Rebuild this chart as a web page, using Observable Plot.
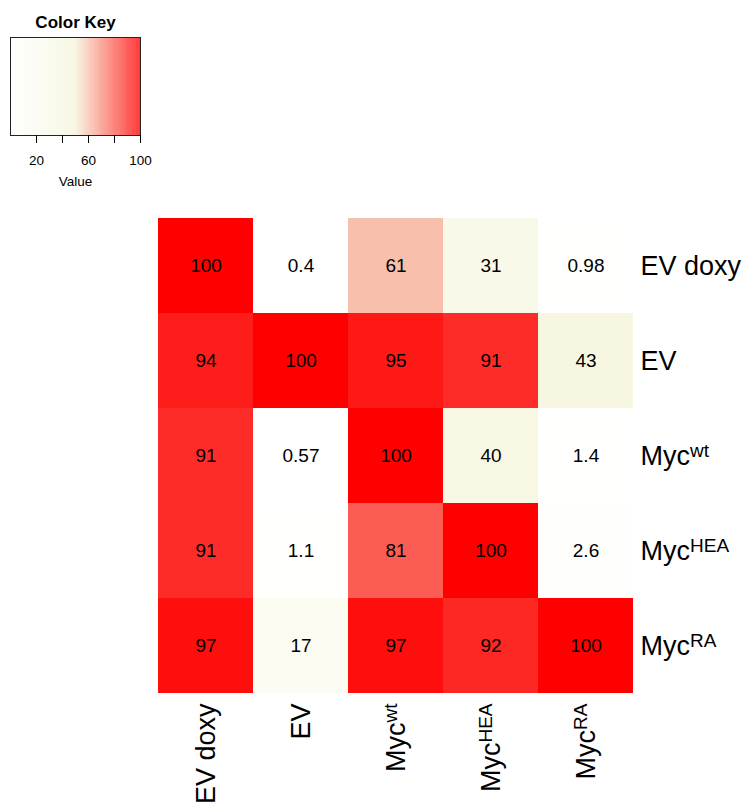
<!DOCTYPE html>
<html>
<head>
<meta charset="utf-8">
<script src="https://cdn.jsdelivr.net/npm/d3@7"></script>
<script src="https://cdn.jsdelivr.net/npm/@observablehq/plot@0.6"></script>
<style>
  body { margin: 0; background: white; }
  #wrap { position: relative; width: 744px; height: 805px; }
  #wrap > svg, #wrap > figure { position: absolute; left: 0; top: 0; margin: 0; }
</style>
</head>
<body>
<div id="wrap"></div>
<script>
// ---- data ----
const columns = ["EV doxy", "EV", "Myc^wt", "Myc^HEA", "Myc^RA"];
const rows = ["EV doxy", "EV", "Myc^wt", "Myc^HEA", "Myc^RA"];
const rowEVdoxy = [100, 0.4, 61, 31, 0.98];
const rowEV = [94, 100, 95, 91, 43];
const rowMycWt = [91, 0.57, 100, 40, 1.4];
const rowMycHEA = [91, 1.1, 81, 100, 2.6];
const rowMycRA = [97, 17, 97, 92, 100];
const keyTicks = [20, 40, 60, 80, 100];
const keyTickLabels = [20, 60, 100];

const matrix = [rowEVdoxy, rowEV, rowMycWt, rowMycHEA, rowMycRA];
const table = [];
rows.forEach((r, i) => columns.forEach((c, j) => table.push({row: r, col: c, value: matrix[i][j]})));

const colorScale = {
  type: "linear",
  domain: [0, 50, 100],
  range: ["#FFFFFF", "#F5F5DC", "#FF0000"],
  interpolate: "rgb"
};
const font = "'Liberation Sans', Arial, Helvetica, sans-serif";

function applySuperscripts(svg) {
  svg.querySelectorAll("text").forEach(t => {
    const s = t.textContent;
    if (!s.includes("^")) return;
    const [base, sup] = s.split("^");
    while (t.firstChild) t.removeChild(t.firstChild);
    const ns = "http://www.w3.org/2000/svg";
    const a = document.createElementNS(ns, "tspan");
    a.textContent = base;
    const b = document.createElementNS(ns, "tspan");
    b.textContent = sup;
    b.setAttribute("font-size", "19px");
    b.setAttribute("dy", "-7.5");
    t.appendChild(a);
    t.appendChild(b);
  });
}

const main = Plot.plot({
  width: 744,
  height: 805,
  marginLeft: 157,
  marginRight: 111,
  marginTop: 217,
  marginBottom: 112,
  style: {fontFamily: font, fontSize: "19px", background: "white", color: "black"},
  x: {domain: columns, padding: 0},
  y: {domain: rows, padding: 0},
  color: colorScale,
  marks: [
    Plot.cell(table, {x: "col", y: "row", fill: "value", inset: 0}),
    Plot.text(table, {x: "col", y: "row", text: d => String(d.value), fontSize: 19, fill: "black"}),
    Plot.axisX({anchor: "bottom", tickSize: 0, tickPadding: 10, tickRotate: -90, fontSize: 27, label: null}),
    Plot.axisY({anchor: "right", tickSize: 0, tickPadding: 7, fontSize: 27, label: null})
  ]
});
applySuperscripts(main);
document.getElementById("wrap").appendChild(main);

const keySteps = d3.range(0, 100, 0.5);
const key = Plot.plot({
  width: 170,
  height: 190,
  marginLeft: 10,
  marginRight: 30,
  marginTop: 37,
  marginBottom: 55,
  style: {fontFamily: font, fontSize: "13.5px", background: "transparent", color: "black"},
  x: {domain: [0, 100]},
  color: colorScale,
  marks: [
    Plot.rect(keySteps, {x1: d => d, x2: d => d + 0.5, fill: d => d + 0.25}),
    Plot.frame({stroke: "#222", strokeWidth: 1}),
    Plot.axisX({
      ticks: keyTicks,
      tickFormat: d => keyTickLabels.includes(d) ? String(d) : "",
      tickSize: 8,
      tickPadding: 12,
      fontSize: 13.5,
      label: "Value",
      labelAnchor: "center",
      labelArrow: "none",
      labelOffset: 50
    }),
    Plot.text(["Color Key"], {frameAnchor: "top", lineAnchor: "middle", dy: -15, fontWeight: "bold", fontSize: 17, fill: "black"})
  ]
});
key.style.background = "transparent";
document.getElementById("wrap").appendChild(key);
</script>
</body>
</html>
